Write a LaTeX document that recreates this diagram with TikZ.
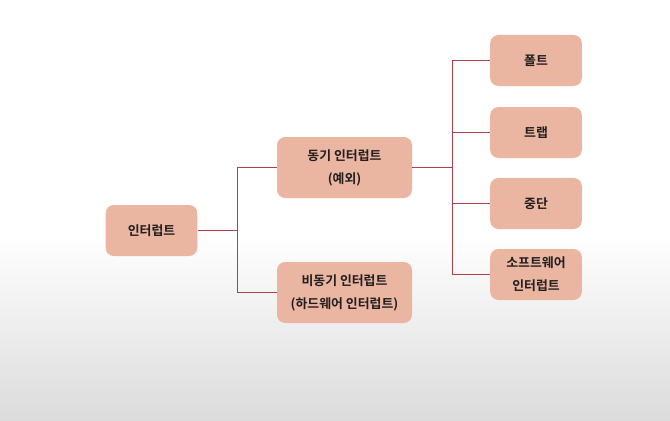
\documentclass[tikz,border=0pt]{standalone}
\usepackage{fontspec}
\usepackage{tikz}
\usetikzlibrary{positioning,calc}
\newfontfamily\krfont{Noto Sans CJK KR}[BoldFont={Noto Sans CJK KR Bold}]
\definecolor{intrsalmon}{RGB}{234,182,162}
\definecolor{intrline}{RGB}{176,62,76}
\definecolor{intrtext}{RGB}{34,30,30}
\begin{document}
\begin{tikzpicture}[
	x=0.03cm, y=-0.03cm,
	% Node styles
	intrbox/.style={
		rectangle,
		rounded corners=7pt,
		fill=intrsalmon,
		draw=none,
		text=intrtext,
		align=center,
		font=\krfont\bfseries\fontsize{11}{19.5}\selectfont,
		minimum width=2.75cm,
		minimum height=1.53cm
	},
	widebox/.style={
		intrbox,
		minimum width=4.05cm,
		minimum height=1.83cm
	},
	link/.style={
		line width=0.8pt,
		color=intrline
	}
	]
	
	% Background
	\useasboundingbox (0,0) rectangle (670,421);
	\fill[white] (0,0) rectangle (670,421);
	\shade[top color=white, bottom color=black!14] (0,235) rectangle (670,421);
	
	% Root
	\node[intrbox] (intr) at (151.5,230.5) {인터럽트};
	
	% Second level
	\node[widebox] (sync) at (344.5,167.5) {동기 인터럽트\\(예외)};
	\node[widebox] (async) at (344.5,292.5) {비동기 인터럽트\\(하드웨어 인터럽트)};
	
	% Third level
	\node[intrbox] (fault) at (536,60.5) {폴트};
	\node[intrbox] (trap) at (536,132.5) {트랩};
	\node[intrbox] (abort) at (536,203.5) {중단};
	\node[intrbox] (swintr) at (536,274.5) {소프트웨어\\인터럽트};
	
	% Branch points
	\coordinate (split1) at (237,230.5);
	\coordinate (split2) at (452,167.5);
	
	% Connectors
	\draw[link] (intr.east) -- (split1);
	\draw[link] (split1) |- (sync.west);
	\draw[link] (split1) |- (async.west);
	
	\draw[link] (sync.east) -- (split2);
	\draw[link] (split2) |- (fault.west);
	\draw[link] (split2) |- (trap.west);
	\draw[link] (split2) |- (abort.west);
	\draw[link] (split2) |- (swintr.west);
	
\end{tikzpicture}
\end{document}
